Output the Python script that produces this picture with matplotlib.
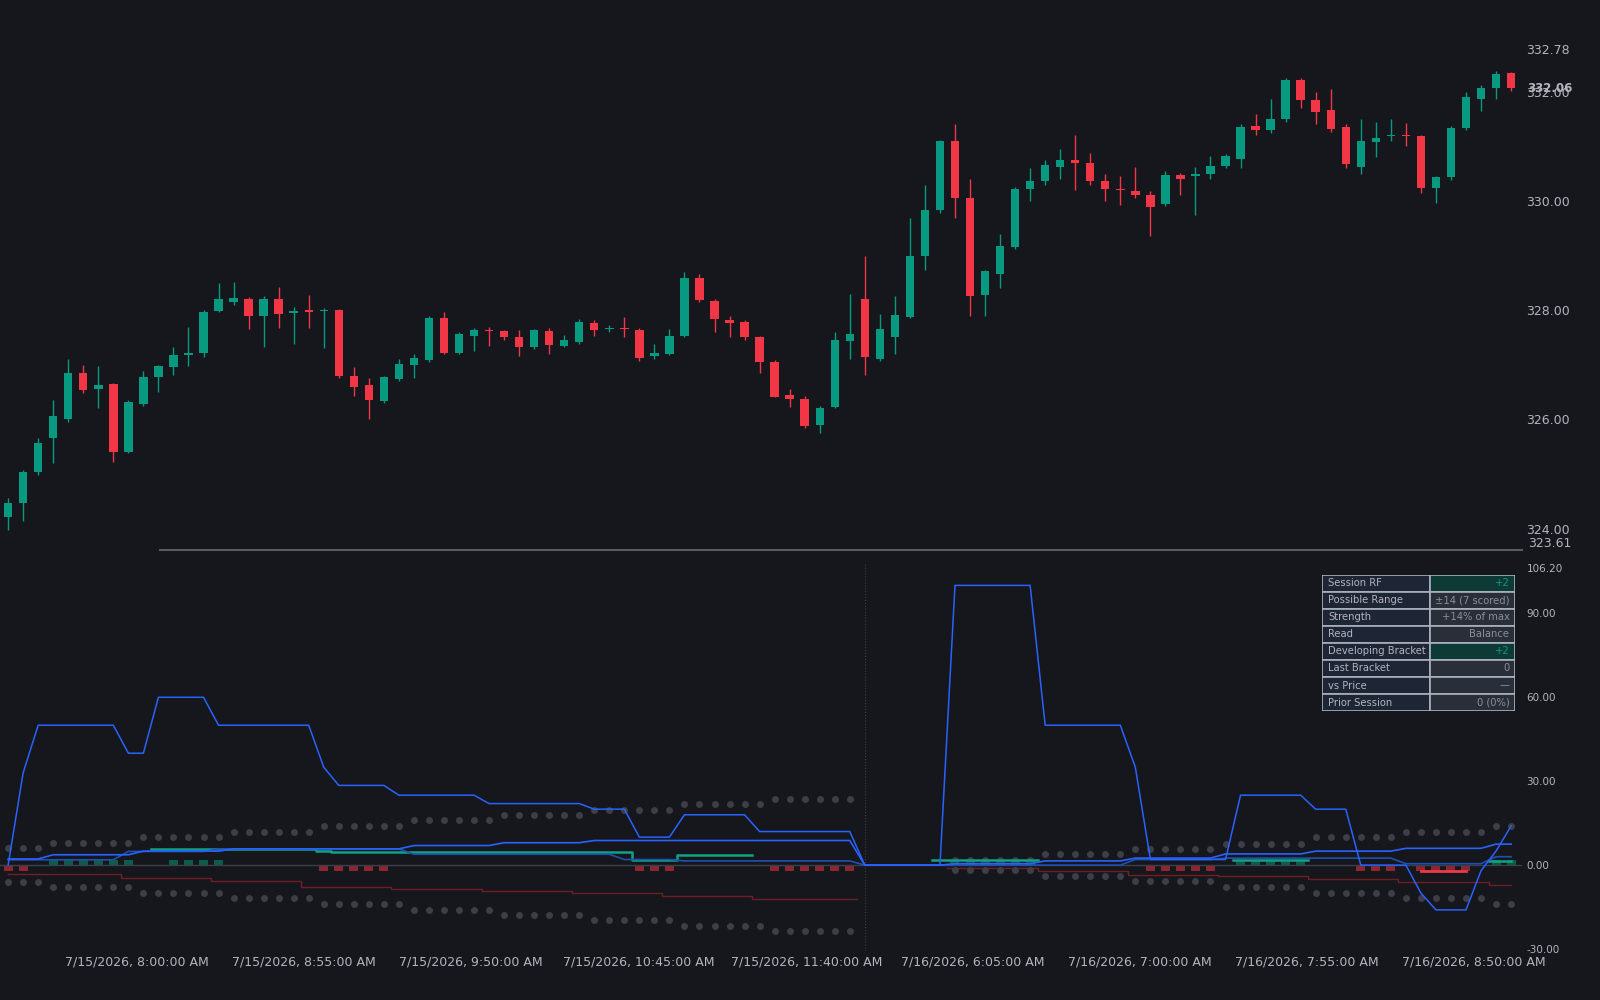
import numpy as np
import matplotlib
matplotlib.use('Agg')
import matplotlib.pyplot as plt
from matplotlib.patches import Rectangle

nan = np.nan
BG = '#15171c'
TXT = '#b2b5be'
UP = '#089981'
DN = '#f23645'

# ---- price candles (5 min bars, two sessions) ----
opens = [324.21, 324.47, 325.03, 325.66, 326.00, 326.84, 326.56, 326.64, 325.40, 326.28,
         326.77, 326.95, 327.18, 327.22, 327.98, 328.15, 328.21, 327.89, 328.21, 327.94,
         328.00, 327.98, 328.00, 326.79, 326.62, 326.34, 326.73, 326.99, 327.08, 327.85,
         327.22, 327.53, 327.63, 327.61, 327.50, 327.33, 327.61, 327.35, 327.42, 327.76,
         327.66, 327.68, 327.64, 327.16, 327.20, 327.53, 328.58, 328.17, 327.81, 327.78,
         327.51, 327.05, 326.45, 326.37, 325.89, 326.22, 327.44, 328.21, 327.10, 327.51,
         327.87, 328.99, 329.83, 331.10, 330.06, 328.28, 328.67, 329.16, 330.22, 330.36,
         330.62, 330.75, 330.69, 330.36, 330.22, 330.19, 330.11, 329.94, 330.47, 330.45,
         330.49, 330.64, 330.77, 331.38, 331.29, 331.50, 332.21, 331.85, 331.66, 331.35,
         330.62, 331.08, 331.18, 331.19, 331.18, 330.24, 330.43, 331.33, 331.87, 332.07,
         332.34]
closes = [324.47, 325.03, 325.57, 326.06, 326.84, 326.54, 326.62, 325.40, 326.32, 326.77,
          326.97, 327.18, 327.22, 327.96, 328.21, 328.22, 327.89, 328.21, 327.93, 327.98,
          327.96, 328.00, 326.79, 326.60, 326.36, 326.77, 327.01, 327.12, 327.85, 327.22,
          327.57, 327.63, 327.61, 327.50, 327.33, 327.63, 327.36, 327.46, 327.79, 327.63,
          327.68, 327.66, 327.12, 327.22, 327.53, 328.58, 328.19, 327.83, 327.76, 327.50,
          327.05, 326.41, 326.37, 325.87, 326.21, 327.46, 327.57, 327.14, 327.65, 327.91,
          328.99, 329.83, 331.10, 330.06, 328.26, 328.71, 329.18, 330.22, 330.37, 330.65,
          330.75, 330.69, 330.36, 330.21, 330.20, 330.11, 329.89, 330.47, 330.41, 330.50,
          330.64, 330.82, 331.36, 331.29, 331.50, 332.22, 331.85, 331.63, 331.31, 330.67,
          331.10, 331.16, 331.19, 331.18, 330.24, 330.43, 331.33, 331.91, 332.07, 332.32,
          332.06]
highs = [324.55, 325.08, 325.65, 326.36, 327.10, 327.00, 326.98, 326.66, 326.36, 326.88,
         327.00, 327.33, 327.70, 328.00, 328.50, 328.52, 328.24, 328.25, 328.42, 328.05,
         328.28, 328.04, 328.02, 326.95, 326.75, 326.80, 327.10, 327.20, 327.90, 327.96,
         327.60, 327.68, 327.70, 327.64, 327.63, 327.66, 327.68, 327.55, 327.83, 327.82,
         327.72, 327.88, 327.68, 327.38, 327.65, 328.70, 328.66, 328.20, 327.90, 327.82,
         327.52, 327.08, 326.56, 326.42, 326.24, 327.60, 328.30, 328.99, 327.93, 328.26,
         329.69, 330.30, 331.12, 331.40, 330.40, 328.74, 329.40, 330.25, 330.61, 330.75,
         330.95, 331.20, 330.88, 330.50, 330.45, 330.62, 330.19, 330.55, 330.52, 330.62,
         330.82, 330.86, 331.40, 331.60, 331.86, 332.26, 332.25, 332.00, 332.05, 331.40,
         331.50, 331.45, 331.50, 331.42, 331.20, 330.45, 331.38, 332.00, 332.12, 332.38,
         332.36]
lows = [323.98, 324.14, 324.98, 325.20, 325.95, 326.48, 326.20, 325.22, 325.38, 326.25,
        326.50, 326.82, 326.98, 327.15, 327.96, 328.10, 327.66, 327.33, 327.68, 327.38,
        327.68, 327.30, 326.75, 326.42, 326.00, 326.30, 326.70, 326.75, 327.05, 327.20,
        327.20, 327.25, 327.35, 327.46, 327.16, 327.28, 327.20, 327.32, 327.38, 327.52,
        327.60, 327.50, 327.06, 327.10, 327.18, 327.50, 328.15, 327.60, 327.50, 327.45,
        326.85, 326.40, 326.23, 325.84, 325.75, 326.20, 327.10, 326.82, 327.06, 327.20,
        327.85, 328.73, 329.78, 329.68, 327.90, 327.90, 328.40, 329.12, 330.00, 330.30,
        330.40, 330.20, 330.30, 330.00, 329.92, 330.05, 329.35, 329.90, 330.10, 329.75,
        330.40, 330.60, 330.60, 331.20, 331.25, 331.45, 331.70, 331.40, 331.26, 330.60,
        330.50, 330.80, 331.10, 331.00, 330.15, 329.96, 330.38, 331.30, 331.65, 331.86,
        332.02]

# ---- lower pane: rotation factor study ----
rf_line = ([0, 33] + [50] * 6 + [40] * 2 + [60] * 4 + [50] * 7 + [35] + [28.5] * 4 + [25] * 6
           + [22] * 7 + [20] * 3 + [10] * 3 + [18] * 5 + [12] * 7
           + [0] * 6 + [100] * 6 + [50] * 6 + [35] + [2] * 6 + [25] * 5 + [20] * 3 + [0] * 4
           + [-10] + [-16] * 3 + [-2, 5, 14])
cum_a = ([2.2] * 3 + [3.7] * 6 + [5.0] * 6 + [5.8] * 12 + [7.0] * 6 + [8.0] * 6 + [8.8] * 18
         + [0] * 6 + [0.5] * 6 + [1.5] * 6 + [2.5] * 6 + [4] * 6 + [5] * 6 + [6] * 6 + [7.5] * 2)
cum_b = ([1.9] * 8 + [4.9] * 6 + [5.8] * 13 + [3.9] * 14 + [2] * 4 + [1.5] * 12
         + [0] * 18 + [2] * 6 + [2.5] * 12 + [0.5] * 6 + [3] * 2)
bracket = ([nan] * 10 + [5.8] * 11 + [4.9] + [4.7] * 20 + [2] * 3 + [3.6] * 5 + [nan] * 12
           + [2] * 7 + [nan] * 13 + [2] * 5 + [nan] * 12 + [1.5] * 2)
scores = ([-2, -2, 0] + [2] * 6 + [0, 0] + [2] * 4 + [0] * 6 + [-2] * 5 + [0] * 16 + [-2] * 3
          + [0] * 6 + [-2] * 6 + [0] * 6 + [2] * 6 + [0] * 7 + [-2] * 5 + [0] + [2] * 5
          + [0] * 3 + [-2] * 3 + [0] + [-2] * 4 + [0] + [2] * 2)
band = ([6.2] * 3 + [8] * 6 + [9.9] * 6 + [11.7] * 6 + [13.9] * 6 + [16] * 6 + [17.9] * 6
        + [19.7] * 6 + [21.9] * 6 + [23.7] * 6 + [nan] * 6 + [1.8] * 6 + [4] * 6 + [5.8] * 6
        + [7.7] * 6 + [9.9] * 6 + [11.7] * 6 + [13.9] * 2)
low_line = ([-3.3] * 8 + [-4.7] * 6 + [-5.8] * 6 + [-7.7] * 6 + [-8.4] * 6 + [-9.1] * 6
            + [-10] * 6 + [-10.9] * 6 + [-12] * 7 + [nan] * 6 + [-1] * 6 + [-2] * 6
            + [-3.5] * 6 + [-4] * 6 + [-5] * 6 + [-6] * 6 + [-7] * 2)

tick_pos = [8.55, 19.7, 30.8, 41.95, 53.1, 64.2, 75.3, 86.4, 97.5]
tick_labels = ['7/15/2026, 8:00:00 AM', '7/15/2026, 8:55:00 AM', '7/15/2026, 9:50:00 AM',
               '7/15/2026, 10:45:00 AM', '7/15/2026, 11:40:00 AM', '7/16/2026, 6:05:00 AM',
               '7/16/2026, 7:00:00 AM', '7/16/2026, 7:55:00 AM', '7/16/2026, 8:50:00 AM']
table_rows = [('Session RF', '+2', True), ('Possible Range', '±14 (7 scored)', False),
              ('Strength', '+14% of max', False), ('Read', 'Balance', False),
              ('Developing Bracket', '+2', True), ('Last Bracket', '0', False),
              ('vs Price', '—', False), ('Prior Session', '0 (0%)', False)]

x = np.arange(len(opens))
fig = plt.figure(figsize=(16, 10), dpi=100, facecolor=BG)
ax1 = fig.add_axes([0.0, 0.442, 0.951, 0.558], facecolor=BG)
ax2 = fig.add_axes([0.0, 0.049, 0.951, 0.388], facecolor=BG, sharex=ax1)

for i in x:
    col = UP if closes[i] >= opens[i] else DN
    ax1.vlines(i, lows[i], highs[i], color=col, lw=1)
    lo, hi = min(opens[i], closes[i]), max(opens[i], closes[i])
    ax1.add_patch(Rectangle((i - 0.28, lo), 0.56, max(hi - lo, 0.02), color=col, lw=0))

ax1.set_ylim(323.46, 333.68)
ax1.set_xlim(-0.54, 100.7)
ax1.axhline(323.61, xmin=0.105, color='#555a66', lw=1.5, clip_on=False)
ax1.yaxis.tick_right()
ax1.set_yticks([324, 326, 328, 330, 332, 332.78])
ax1.set_yticklabels(['324.00', '326.00', '328.00', '330.00', '332.00', '332.78'])
ax1.text(1.004, 332.06, '332.06', transform=ax1.get_yaxis_transform(), color=TXT,
         fontsize=8.5, fontweight='bold', va='center')
ax1.text(1.004, 323.61, '323.61', transform=ax1.get_yaxis_transform(), color=TXT,
         fontsize=9, va='bottom')

# lower pane
ax2.axhline(0, color='#3a3f4b', lw=1)
ax2.axvline(57, color='#3a3f4b', lw=0.8, ls=':')
sc = np.array(scores, dtype=float)
ax2.bar(x, sc, width=0.6, color=np.where(sc > 0, '#0d5c4c', '#8c2630'))
ax2.plot(x, low_line, color='#6e1e24', lw=1, drawstyle='steps-mid')
ax2.plot(x, band, 'o', color='#3c3f47', ms=4)
ax2.plot(x, -np.array(band), 'o', color='#3c3f47', ms=4)
ax2.plot(x, bracket, color='#0fa383', lw=1.8, drawstyle='steps-mid')
ax2.plot(x, cum_b, color='#1f50b0', lw=1.2)
ax2.plot(x, cum_a, color='#2962ff', lw=1.2)
ax2.plot(x, rf_line, color='#2962ff', lw=1.1)
ax2.plot([94, 97], [-2, -2], color=DN, lw=2)
ax2.set_ylim(-30.7, 108)
ax2.yaxis.tick_right()
ax2.set_yticks([-30, 0, 30, 60, 90, 106.2])
ax2.set_yticklabels(['-30.00', '0.00', '30.00', '60.00', '90.00', '106.20'])
ax2.set_xticks(tick_pos)
ax2.set_xticklabels(tick_labels)

for a in (ax1, ax2):
    for s in a.spines.values():
        s.set_visible(False)
    a.tick_params(colors=TXT, length=0, labelsize=9)
ax2.tick_params(axis='y', labelsize=7.5)
ax1.tick_params(axis='x', labelbottom=False)

# info table
tab = fig.add_axes([0.8265, 0.2888, 0.1205, 0.1367])
tab.set_xlim(0, 1)
tab.set_ylim(0, len(table_rows))
tab.axis('off')
split = 0.556
for r, (name, val, hl) in enumerate(table_rows):
    y0 = len(table_rows) - r - 1
    tab.add_patch(Rectangle((0, y0), split, 1, facecolor='#1e2535', edgecolor='#aab2c0', lw=1.2))
    tab.add_patch(Rectangle((split, y0), 1 - split, 1, facecolor='#0e3a35' if hl else '#2a2e39',
                            edgecolor='#aab2c0', lw=1.2))
    tab.text(0.03, y0 + 0.5, name, color=TXT, fontsize=7.2, va='center')
    tab.text(0.97, y0 + 0.5, val, color=UP if hl else '#8a8f9a', fontsize=7.2,
             va='center', ha='right')

fig.savefig('out.png', dpi=100, facecolor=BG)
